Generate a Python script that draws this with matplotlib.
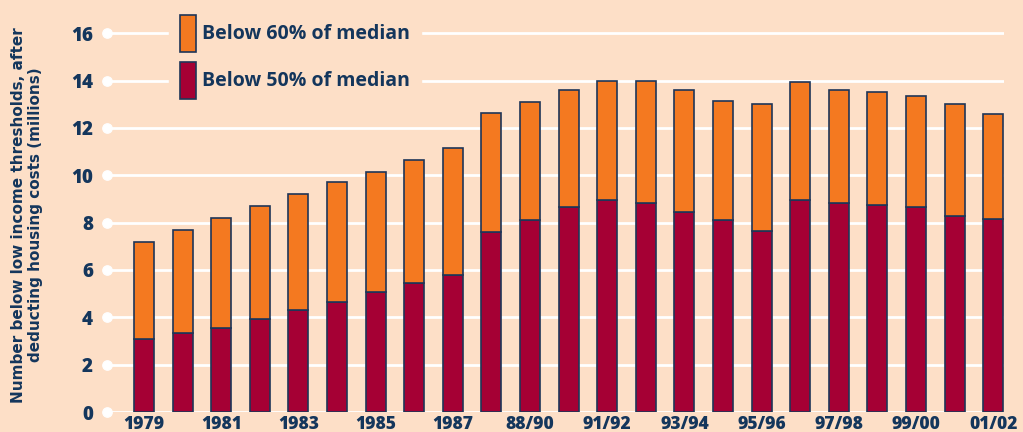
import matplotlib
matplotlib.use("Agg")
import matplotlib.pyplot as plt
import numpy as np

labels = ['1979', '', '1981', '', '1983', '', '1985', '', '1987', '', '88/90', '',
          '91/92', '', '93/94', '', '95/96', '', '97/98', '', '99/00', '', '01/02']
below50 = [3.1, 3.35, 3.55, 3.95, 4.3, 4.65, 5.05, 5.45, 5.8, 7.6, 8.1, 8.65,
           8.95, 8.85, 8.45, 8.1, 7.65, 8.95, 8.85, 8.75, 8.65, 8.3, 8.15]
below60 = [7.2, 7.7, 8.2, 8.7, 9.2, 9.7, 10.15, 10.65, 11.15, 12.65, 13.1, 13.6,
           14.0, 14.0, 13.6, 13.15, 13.0, 13.95, 13.6, 13.5, 13.35, 13.0, 12.6]
yticks = [0, 2, 4, 6, 8, 10, 12, 14, 16]

BG = '#FDDFC7'
ORANGE = '#F47920'
RED = '#A50034'
NAVY = '#14365C'
EDGE = '#1E3558'

W, H = 1023, 432
fig = plt.figure(figsize=(W / 100, H / 100), dpi=100, facecolor=BG)
plt.rcParams['font.family'] = ['Open Sans', 'DejaVu Sans']

y0_px, ppu = 412, 23.67
ytop = 16.8
ax = fig.add_axes([107 / W, (H - y0_px) / H, (1004 - 107) / W, ytop * ppu / H])
ax.set_facecolor(BG)

x = np.arange(len(labels))
ax.set_xlim(-0.96, 22.28)
ax.set_ylim(0, ytop)

# gridlines with white dots
for t in yticks:
    ax.axhline(t, color='white', lw=2, zorder=1)
ax.scatter(np.full(len(yticks), -0.96), yticks, s=45, color='white', zorder=3, clip_on=False)

b50 = np.array(below50)
b60 = np.array(below60)
bw = 20 / 38.6
ax.bar(x, b50, width=bw, color=RED, edgecolor=EDGE, linewidth=1.2, zorder=2,
       label='Below 50% of median')
ax.bar(x, b60 - b50, bottom=b50, width=bw, color=ORANGE, edgecolor=EDGE, linewidth=1.2,
       zorder=2, label='Below 60% of median')

for s in ax.spines.values():
    s.set_visible(False)
ax.set_yticks(yticks)
ax.set_yticklabels([str(t) for t in yticks], fontsize=13.5, fontweight='heavy', color=NAVY)
ax.set_xticks(x)
ax.set_xticklabels(labels, fontsize=12.5, fontweight='heavy', color=NAVY)
ax.tick_params(axis='y', length=0, pad=10)
ax.tick_params(axis='x', length=0, pad=3)

handles, labs = ax.get_legend_handles_labels()
leg = ax.legend(handles[::-1], labs[::-1], loc='upper left',
                bbox_to_anchor=(169 / W, 1 - 4 / H), bbox_transform=fig.transFigure,
                frameon=True, facecolor=BG, edgecolor=BG, framealpha=1, fancybox=False,
                handlelength=0.82, handleheight=2.55, handletextpad=0.3, labelspacing=0.5,
                borderpad=0.57, borderaxespad=0, prop={'size': 14, 'weight': 'bold'})
for t in leg.get_texts():
    t.set_color(NAVY)
leg.set_zorder(5)

fig.text(27 / W, 1 - 215 / H,
         'Number below low income thresholds, after\ndeducting housing costs (millions)',
         rotation=90, ha='center', va='center', multialignment='center',
         family='DejaVu Sans', fontsize=11, fontweight='bold', color=NAVY, linespacing=1.1)

fig.savefig('out.png', dpi=100, facecolor=BG)
